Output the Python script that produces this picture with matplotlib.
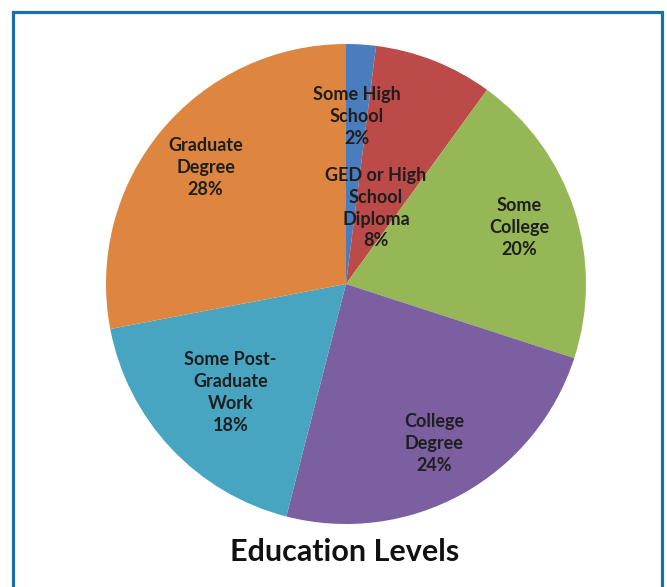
import matplotlib
import numpy as np
from matplotlib import pyplot as plt
from matplotlib.patches import Rectangle

matplotlib.use("agg")

categories = [
    "Some High\nSchool",
    "GED or High\nSchool\nDiploma",
    "Some\nCollege",
    "College\nDegree",
    "Some Post-\nGraduate\nWork",
    "Graduate\nDegree",
]
shares = [2, 8, 20, 24, 18, 28]
colors = ["#4A7DBD", "#BC4A48", "#96B755", "#7C5FA0", "#47A5C2", "#DE8540"]
# label distance from centre, per slice (fraction of radius)
label_r = [0.70, 0.34, 0.76, 0.76, 0.66, 0.76]

fig = plt.figure(figsize=(6.67, 5.87), dpi=100)
ax = fig.add_axes([106 / 667, 63 / 587, 480 / 667, 480 / 587])

wedges, texts = ax.pie(
    shares,
    colors=colors,
    startangle=90,
    counterclock=False,
    radius=1.0,
    labels=[f"{c}\n{s}%" for c, s in zip(categories, shares)],
    labeldistance=0.7,
    textprops=dict(family=["Lato", "DejaVu Sans"], fontsize=13, fontweight="bold",
                   color="#1E1E1E", linespacing=1.35),
    wedgeprops=dict(linewidth=0),
)
for w, t, r in zip(wedges, texts, label_r):
    ang = np.deg2rad((w.theta1 + w.theta2) / 2)
    t.set_position((r * np.cos(ang), r * np.sin(ang)))
    t.set_ha("center")
    t.set_va("center")
ax.set_xlim(-1, 1)
ax.set_ylim(-1, 1)

fig.text(345 / 667, 1 - 552 / 587, "Education Levels", ha="center", va="center",
         fontsize=22, fontweight="bold", family=["Lato", "DejaVu Sans"], color="#111111")

fig.patches.append(Rectangle((12.5 / 667, -0.05), 649 / 667, 1.05 - 11.5 / 587,
                             transform=fig.transFigure, fill=False,
                             edgecolor="#1A6FA8", linewidth=2.3))

plt.savefig("out.png", dpi=100)
